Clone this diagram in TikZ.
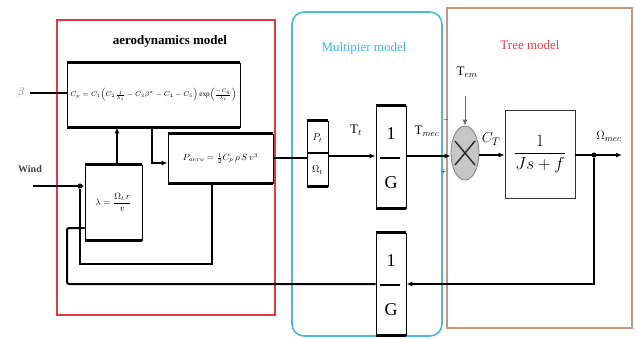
\documentclass[tikz,border=0pt]{standalone}
\usepackage{amsmath}
\usepackage{fontspec}
\setmainfont{Liberation Serif}
\usetikzlibrary{arrows.meta,shapes.geometric}
\definecolor{aeroRed}{HTML}{E23A3F}
\definecolor{multBlue}{HTML}{4BB8E0}
\definecolor{treeBrown}{HTML}{C8967A}
\definecolor{treeTitle}{HTML}{E8404A}
\definecolor{multTitle}{HTML}{3CB4E6}
\begin{document}
\begin{tikzpicture}[x=1pt,y=-1pt,
  blockbox/.style={draw, line width=0.9pt, inner sep=0pt},
  thinbox/.style={draw=black!80, line width=0.7pt, inner sep=0pt},
  lbl/.style={inner sep=0pt, font=\fontsize{13}{14}\selectfont},
  sig/.style={line width=2pt},
  arr/.style={line width=2pt, -{Latex[length=6pt,width=5pt]}},
  dotc/.style={circle, fill=black, inner sep=0pt, minimum size=5pt}]
\useasboundingbox (0,0) rectangle (636,338);

% group frames
\draw[aeroRed, line width=1.5pt] (57,20) rectangle (275,315);
\draw[multBlue, line width=1.6pt, rounded corners=12pt] (292,12) rectangle (442,336);
\draw[treeBrown, line width=1.5pt] (447,8) rectangle (632,328);

% titles
\node[inner sep=0pt, font=\fontsize{13}{14}\selectfont\bfseries] (taero) at (170,41) {aerodynamics model};
\node[inner sep=0pt, multTitle, font=\fontsize{13}{14}\selectfont] (tmult) at (364,48) {Multipier model};
\node[inner sep=0pt, treeTitle, font=\fontsize{13}{14}\selectfont] (ttree) at (530,45) {Tree model};

% aerodynamic blocks
\node[blockbox, minimum width=173pt, minimum height=64pt] (cp) at (153.5,95)
  {\fontsize{7.2}{8}\selectfont $C_p = C_1\!\left(C_2\frac{1}{\lambda_i}-C_3\beta^x-C_4-C_5\right)\exp\!\left(\frac{-C_6}{\lambda_i}\right)$};
\node[blockbox, minimum width=105pt, minimum height=49pt] (pa) at (220.5,158.5)
  {\fontsize{9}{10}\selectfont $P_{aero}=\tfrac{1}{2}C_p\,\rho\,S\,v^3$};
\node[blockbox, minimum width=57pt, minimum height=75pt] (lam) at (113.5,202.5)
  {\fontsize{9}{10}\selectfont $\lambda=\dfrac{\Omega_t\, r}{v}$};

% multiplier blocks
\node[blockbox, minimum width=21pt, minimum height=65pt] (pw) at (317.5,153.5) {};
\node[inner sep=0pt, font=\fontsize{10}{11}\selectfont] (pwt) at (317.5,138) {$P_t$};
\node[inner sep=0pt, font=\fontsize{10}{11}\selectfont] (pwb) at (317.5,170) {$\Omega_t$};
\node[blockbox, minimum width=30pt, minimum height=102pt] (ga) at (391,157) {};
\node[inner sep=0pt, font=\fontsize{18}{19}\selectfont] (ga1) at (391,134) {1};
\node[inner sep=0pt, font=\fontsize{18}{19}\selectfont] (gaG) at (391,183) {G};
\node[blockbox, minimum width=30pt, minimum height=102pt] (gb) at (391,284) {};
\node[inner sep=0pt, font=\fontsize{18}{19}\selectfont] (gb1) at (391,261) {1};
\node[inner sep=0pt, font=\fontsize{18}{19}\selectfont] (gbG) at (391,310) {G};

% thick top and bottom edges
\foreach \n in {cp,pa,lam,pw,ga,gb}
  \draw[line width=2.6pt] (\n.north west) -- (\n.north east) (\n.south west) -- (\n.south east);
% dividers
\draw[line width=1.4pt] (pw.west |- 0,153) -- (pw.east |- 0,153);
\draw[line width=2.4pt] (380,158) -- (400,158);
\draw[line width=2.4pt] (380,285) -- (400,285);

% tree blocks
\node[ellipse, draw=gray, fill=gray!45, line width=0.8pt, minimum width=28pt, minimum height=54pt, inner sep=0pt] (mul) at (465,153) {};
\draw[line width=1.4pt, black!85] (mul.center) ++(-10,-12) -- ++(20,24);
\draw[line width=1.4pt, black!85] (mul.center) ++(10,-12) -- ++(-20,24);
\node[thinbox, minimum width=70pt, minimum height=88pt] (tf) at (540,154)
  {\fontsize{16}{17}\selectfont $\dfrac{1}{Js+f}$};

% input labels
\node[inner sep=0pt, text=black!60, font=\fontsize{11}{12}\selectfont] (beta) at (21,93) {$\beta$};
\node[inner sep=0pt, text=black!75, font=\fontsize{10}{11}\selectfont\bfseries] (wind) at (30,169) {Wind};
\coordinate (betaS) at (30,93);
\coordinate (windS) at (33,186);

% signal labels
\node[lbl] (lt) at (356,130) {$\mathrm{T}_t$};
\node[lbl] (lmec) at (427,131) {$\mathrm{T}_{mec}$};
\node[lbl] (lem) at (467,72) {$\mathrm{T}_{em}$};
\node[lbl, font=\fontsize{15}{16}\selectfont] (lct) at (491,139) {$C_T$};
\node[lbl] (lom) at (609,136) {$\Omega_{mec}$};
\node[inner sep=0pt, font=\fontsize{7}{8}\selectfont] (minus) at (446,120) {$-$};
\node[inner sep=0pt, font=\fontsize{7}{8}\selectfont] (plus) at (444,172) {$+$};
\coordinate (emS) at (465,96);
\coordinate (omE) at (622,155);

% aerodynamic connections
\draw[sig] (betaS) -- (cp.west |- betaS);
\draw[arr] (windS) -- (lam.west |- windS);
\node[dotc] (jw) at (80,186) {};
\draw[arr] (lam.north -| 117,0) -- (cp.south -| 117,0);
\draw[arr] (cp.south -| 152,0) |- (pa.west |- 0,163);
\draw[sig] (pa.south -| 212,0) |- (80,264) -- (jw);
\draw[sig] (pa.east |- 0,158) -- (pw.west |- 0,158);

% multiplier connections
\draw[arr] (pw.east |- 0,156) -- (ga.west |- 0,156);
\draw[arr] (ga.east |- 0,156) -- (mul.west |- 0,156);
\draw[arr, line width=1pt, black!60] (emS) -- (mul.north);
\draw[arr] (mul.east |- 0,155) -- (tf.west |- 0,155);

% output and feedback
\node[dotc] (jo) at (594,155) {};
\draw[arr] (tf.east |- 0,155) -- (omE);
\draw[arr] (jo) -- (594,284) -- (gb.east |- 0,284);
\draw[sig, rounded corners=2pt] (gb.west |- 0,284) -- (67,284) -- (67,228) -- (lam.west |- 0,228);
\end{tikzpicture}
\end{document}
